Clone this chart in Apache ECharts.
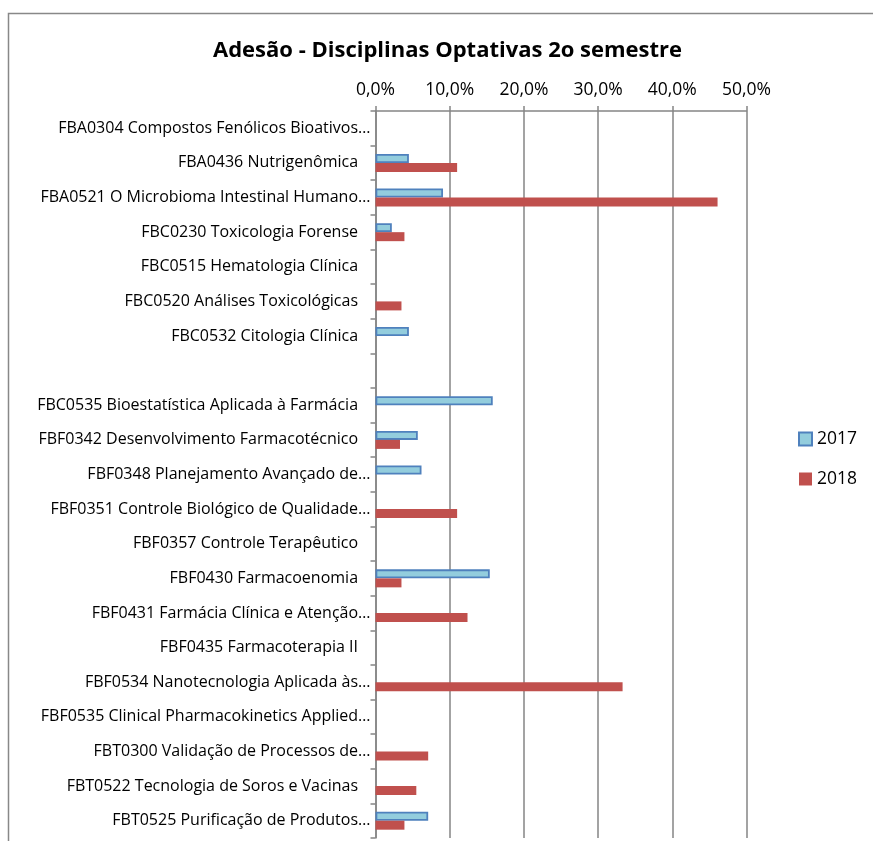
<!DOCTYPE html>
<html>
<head>
<meta charset="utf-8">
<script src="https://cdn.jsdelivr.net/npm/echarts@6/dist/echarts.min.js"></script>
<style>
  html, body { margin: 0; padding: 0; background: #fff; }
  #chart { width: 873px; height: 841px; }
</style>
</head>
<body>
<div id="chart"></div>
<script>
// disciplinas, de cima para baixo (a linha vazia existe no original)
const categories = [
  'FBA0304 Compostos Fenólicos Bioativos…',
  'FBA0436 Nutrigenômica',
  'FBA0521 O Microbioma Intestinal Humano…',
  'FBC0230 Toxicologia Forense',
  'FBC0515 Hematologia Clínica',
  'FBC0520 Análises Toxicológicas',
  'FBC0532 Citologia Clínica',
  '',
  'FBC0535 Bioestatística Aplicada à Farmácia',
  'FBF0342 Desenvolvimento Farmacotécnico',
  'FBF0348 Planejamento Avançado de…',
  'FBF0351 Controle Biológico de Qualidade…',
  'FBF0357 Controle Terapêutico',
  'FBF0430 Farmacoenomia',
  'FBF0431 Farmácia Clínica e Atenção…',
  'FBF0435 Farmacoterapia II',
  'FBF0534 Nanotecnologia Aplicada às…',
  'FBF0535 Clinical Pharmacokinetics Applied…',
  'FBT0300 Validação de Processos de…',
  'FBT0522 Tecnologia de Soros e Vacinas',
  'FBT0525 Purificação de Produtos…'
]
// adesão em %
const adesao2017 = [null, 4.5, 9.1, 2.2, null, null, 4.5, null, 15.8, 5.7, 6.2, null, null, 15.4, null, null, null, null, null, null, 7.1]
const adesao2018 = [null, 11.0, 46.1, 3.9, null, 3.5, null, null, null, 3.3, null, 11.0, null, 3.5, 12.4, null, 33.3, null, 7.1, 5.5, 3.9]
const xTicks = [0, 10, 20, 30, 40, 50]

const font = 'Open Sans'
const gray = '#858585'

const chart = echarts.init(document.getElementById('chart'))
chart.setOption({
  backgroundColor: '#fff',
  animation: false,
  title: {
    text: 'Adesão - Disciplinas Optativas 2o semestre',
    left: 208,
    top: 35,
    textStyle: { fontFamily: font, fontSize: 22, fontWeight: 'bold', color: '#000' }
  },
  legend: {
    orient: 'vertical',
    left: 793,
    top: 423,
    icon: 'rect',
    itemWidth: 13,
    itemHeight: 13,
    itemGap: 18,
    textStyle: { fontFamily: font, fontSize: 17.5, color: '#000', lineHeight: 22 },
    data: ['2017', '2018']
  },
  grid: { left: 375.5, right: 126.5, top: 111, bottom: 3 },
  xAxis: {
    type: 'value',
    position: 'top',
    min: xTicks[0],
    max: xTicks[xTicks.length - 1],
    interval: 10,
    axisLine: { show: true, lineStyle: { color: gray, width: 1.5 } },
    axisTick: { show: true, length: 5, lineStyle: { color: gray, width: 1.5 } },
    splitLine: { lineStyle: { color: gray, width: 1.5 } },
    axisLabel: {
      fontFamily: font, fontSize: 17.5, color: '#000', margin: 12,
      formatter: v => v.toFixed(1).replace('.', ',') + '%'
    }
  },
  yAxis: {
    type: 'category',
    inverse: true,
    data: categories,
    axisLine: { lineStyle: { color: gray, width: 1.5 } },
    axisTick: { show: true, length: 5, lineStyle: { color: gray, width: 1.5 } },
    axisLabel: {
      fontFamily: font, fontSize: 16, color: '#000', margin: 5, interval: 0,
      // rótulos completos ficam um pouco recuados, como no Excel
      formatter: v => v.endsWith('…') ? v : v + '   '
    }
  },
  series: [
    {
      name: '2017',
      type: 'bar',
      data: adesao2017,
      barWidth: 9,
      barGap: '0%',
      itemStyle: { color: '#93CDDD', borderColor: '#4F81BD', borderWidth: 1.8 }
    },
    {
      name: '2018',
      type: 'bar',
      data: adesao2018,
      barWidth: 9,
      barGap: '0%',
      itemStyle: { color: '#C0504D' }
    }
  ],
  graphic: [{
    type: 'rect',
    shape: { x: 8.5, y: 13.5, width: 900, height: 900 },
    style: { fill: 'none', stroke: '#888', lineWidth: 1.5 },
    silent: true
  }]
})
</script>
</body>
</html>
